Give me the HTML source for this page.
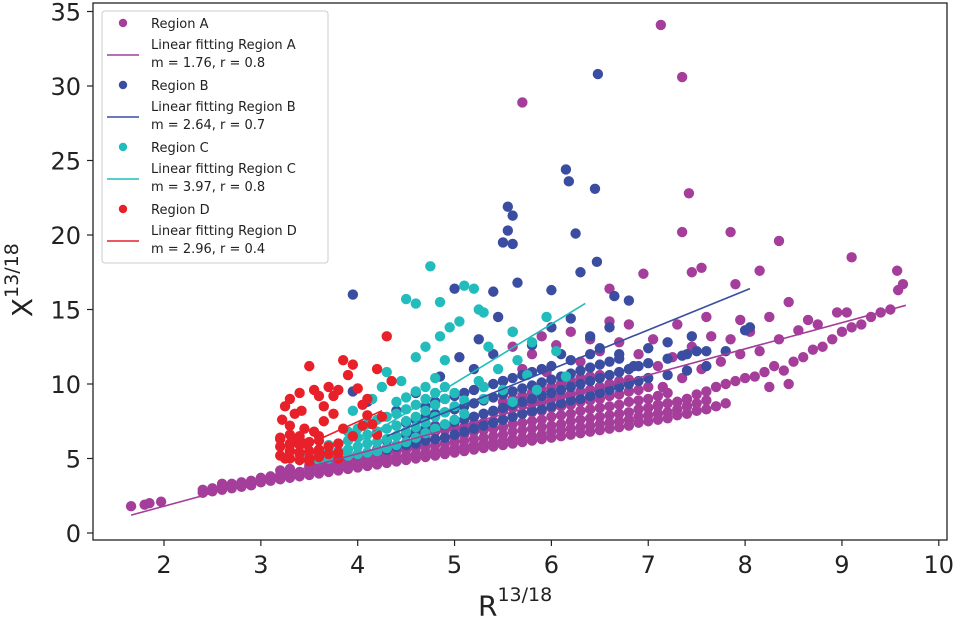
<!DOCTYPE html>
<html><head><meta charset="utf-8"><style>
body{margin:0;background:#fff;font-family:"DejaVu Sans","Liberation Sans",sans-serif}
svg{display:block}
</style></head><body>
<svg id="chart" width="958" height="628" viewBox="0 0 958 628" xmlns="http://www.w3.org/2000/svg"></svg>
<script>
const xTicks=[2,3,4,5,6,7,8,9,10];
const yTicks=[0,5,10,15,20,25,30,35];
const seriesNames=["Region A","Region B","Region C","Region D"];
const seriesColors=["#a43e9a","#3a4da0","#22bcbc","#e8202a"];
const fitSlopes=[1.76,2.64,3.97,2.96];
const fitR=[0.8,0.7,0.8,0.4];
const fitStart=[[1.66,1.2],[4.3,6.5],[3.98,6.0],[3.2,5.1]];
const fitEndX=[9.66,8.05,6.35,4.25];
const regionA=[[1.66,1.8],[1.8,1.9],[1.85,2.0],[1.97,2.1],[7.13,34.1],[7.35,30.6],[5.7,28.9],[7.42,22.8],[7.35,20.2],[7.85,20.2],[8.35,19.6],[9.1,18.5],[9.57,17.6],[9.63,16.7],[9.58,16.3],[8.15,17.6],[6.95,17.4],[7.45,17.5],[7.55,17.8],[7.9,16.7],[6.6,16.4],
[4.2,6.8],[4.5,7.5],[4.8,7.2],[5.5,10.2],[5.7,11.0],[5.95,10.8],[5.8,12.0],[5.6,12.5],[5.9,13.2],
[6.3,11.5],[6.5,12.2],[6.7,12.8],[6.9,12.0],[6.2,13.5],[6.6,14.2],[6.4,13.0],[6.8,14.0],[6.05,12.6],
[7.1,8.5],[7.2,8.7],[7.3,8.8],[7.4,9.0],[7.5,9.3],[7.6,9.5],[7.7,9.8],[7.8,10.0],[7.9,10.2],[8.0,10.4],[7.15,9.8],[7.35,10.4],[7.55,11.0],[7.75,11.5],[7.95,12.0],[7.25,11.8],[7.45,12.5],[7.65,13.2],[7.85,13.0],[7.05,13.0],[7.3,14.0],[7.6,14.5],[7.95,14.3],[7.1,11.2],
[8.1,10.5],[8.2,10.8],[8.3,11.2],[8.4,10.9],[8.5,11.5],[8.6,11.8],[8.7,12.3],[8.8,12.5],[8.9,13.0],[9.0,13.5],[8.15,12.2],[8.35,13.0],[8.55,13.6],[8.75,14.0],[8.95,14.8],[8.25,14.5],[8.45,15.5],[8.65,14.3],[8.05,13.5],[8.45,10.0],[8.25,9.8],
[9.1,13.8],[9.2,14.0],[9.3,14.5],[9.4,14.8],[9.5,15.0],[9.05,14.8]];
const colsA=[[2.4,2.7,2.9],[2.5,2.8,3.0],[2.6,2.9,3.1,3.3],[2.7,3.0,3.3],[2.8,3.1,3.4],[2.9,3.2,3.5],[3.0,3.4,3.7],[3.1,3.5,3.8],[3.2,3.6,3.9,4.2],[3.3,3.7,4.0,4.3],[3.4,3.8,4.1],[3.5,3.9,4.2,4.5],[3.6,4.0,4.3,4.6],[3.7,4.1,4.4,4.7],[3.8,4.2,4.5,4.8],[3.9,4.3,4.6,4.9],
[4.0,4.4,4.7,5.0,5.3],[4.1,4.5,4.8,5.1,5.4],[4.2,4.6,4.9,5.2,5.6],[4.3,4.7,5.0,5.3,5.7],[4.4,4.8,5.1,5.5,5.9],[4.5,4.9,5.2,5.6,6.0],[4.6,5.0,5.3,5.7,6.1,6.5],[4.7,5.1,5.4,5.8,6.2,6.6],[4.8,5.2,5.5,5.9,6.3,6.8],[4.9,5.3,5.6,6.0,6.4,6.9],[5.0,5.4,5.7,6.1,6.5,7.0],
[5.1,5.5,5.8,6.2,6.6,7.1,7.6],[5.2,5.6,5.9,6.3,6.8,7.3,7.8],[5.3,5.7,6.0,6.4,6.9,7.4,8.0],[5.4,5.8,6.1,6.5,7.0,7.5,8.1],[5.5,5.9,6.2,6.6,7.1,7.6,8.2,8.8],[5.6,6.0,6.3,6.8,7.3,7.8,8.4,9.0],[5.7,6.1,6.4,6.9,7.4,8.0,8.6,9.2],[5.8,6.2,6.5,7.0,7.5,8.1,8.7,9.4],[5.9,6.3,6.6,7.1,7.6,8.2,8.8,9.6],[6.0,6.4,6.8,7.2,7.8,8.4,9.0,9.8],
[6.1,6.5,6.9,7.3,7.9,8.5,9.2,10.0],[6.2,6.6,7.0,7.5,8.0,8.6,9.3,10.2],[6.3,6.7,7.1,7.6,8.2,8.8,9.5,10.4],[6.4,6.8,7.2,7.7,8.3,8.9,9.6,10.5],[6.5,6.9,7.3,7.8,8.4,9.0,9.8,10.6],[6.6,7.0,7.4,7.9,8.5,9.2,10.0],[6.7,7.1,7.5,8.0,8.6,9.3,10.2],[6.8,7.2,7.6,8.1,8.8,9.5,10.3],[6.9,7.4,7.8,8.3,8.9,9.6],[7.0,7.5,7.9,8.4,9.0,9.8],
[7.1,7.6,8.0,8.6,9.2],[7.2,7.7,8.1,8.7,9.4],[7.3,7.9,8.3,8.8],[7.4,8.0,8.5,9.0],[7.5,8.2,8.7],[7.6,8.3,8.9],[7.7,8.5],[7.8,8.7]];
const regionB=[[3.95,16.0],[5.55,21.9],[5.6,21.3],[5.55,20.3],[5.5,19.5],[5.6,19.4],[6.15,24.4],[6.18,23.6],[6.45,23.1],[6.48,30.8],[6.25,20.1],[6.47,18.2],[6.3,17.5],[6.65,15.9],[5.65,16.8],[5.4,16.2],[5.0,16.4],[6.0,16.3],[6.8,15.6],[7.45,13.2],[8.05,13.8],[8.0,13.6],[3.95,9.5],[4.1,8.8],
[5.2,11.0],[5.4,12.0],[5.6,13.5],[5.8,12.6],[6.0,13.8],[6.2,14.4],[6.4,13.2],[6.6,13.8],[7.0,12.4],[7.2,12.8],[7.5,12.2],[4.85,10.5],[5.05,11.8],[5.25,13.0],[5.45,14.5],[4.6,9.4],[4.4,8.2],[6.1,12.0],[6.5,12.4],[6.7,12.0],[7.8,12.2],[7.35,11.9],[6.85,11.2]];
const colsB=[[4.3,5.6,6.2],[4.4,5.8,6.5,7.2],[4.5,5.9,6.6,7.4],[4.6,6.0,6.8,7.6],[4.7,6.2,7.0,7.8,8.5],[4.8,6.3,7.1,8.0,8.8],[4.9,6.4,7.2,8.1,9.0],[5.0,6.6,7.4,8.3,9.2],[5.1,6.8,7.6,8.5,9.4],[5.2,7.0,7.8,8.7,9.6],[5.3,7.2,8.0,8.9,9.8],[5.4,7.4,8.2,9.1,10.0],[5.5,7.6,8.4,9.3,10.2],[5.6,7.8,8.6,9.5,10.4],[5.7,8.0,8.8,9.7,10.6],[5.8,8.2,9.0,9.9,10.8],[5.9,8.3,9.2,10.1,11.0],[6.0,8.5,9.4,10.3,11.2],
[6.1,8.7,9.6,10.5],[6.2,8.9,9.8,10.7,11.6],[6.3,9.0,10.0,10.9],[6.4,9.2,10.2,11.1,12.0],[6.5,9.4,10.4,11.3],[6.6,9.6,10.6,11.5],[6.7,9.8,10.8,11.7],[6.8,10.0,11.0],[6.9,10.2,11.2],[7.0,10.4,11.4],[7.2,10.6,11.7],[7.4,10.9,12.0],[7.6,11.2,12.2]];
const regionC=[[4.75,17.9],[4.6,15.4],[4.5,15.7],[4.85,15.5],[5.1,16.6],[5.2,16.4],[5.05,14.2],[4.95,13.8],[5.25,15.0],[5.3,14.8],[5.95,14.5],[5.6,13.5],[5.8,12.8],[6.05,12.2],[4.3,10.8],[4.6,11.8],[4.9,11.6],
[4.15,9.0],[4.25,9.8],[3.95,8.2],[4.45,10.2],[4.7,12.5],[4.85,13.2],[5.35,12.5],[5.45,11.0],[5.65,11.6],[5.85,9.6],[6.15,10.5],[5.6,8.8],[4.8,10.4],[5.25,10.2],[5.75,10.6],[3.5,5.2],[3.4,4.9]];
const colsC=[[3.6,4.9,5.3],[3.7,5.0,5.4,5.9],[3.8,5.1,5.5,6.0],[3.9,5.2,5.6,6.2,6.8],[4.0,5.3,5.8,6.4,7.0],[4.1,5.4,6.0,6.6,7.3],[4.2,5.5,6.1,6.8,7.6],[4.3,5.7,6.3,7.0,7.8],[4.4,5.9,6.5,7.2,8.0,8.8],[4.5,6.1,6.8,7.5,8.3,9.1],[4.6,6.4,7.1,7.8,8.6,9.5],[4.7,6.7,7.4,8.2,9.0,9.8],[4.8,7.0,7.8,8.6,9.4],[4.9,7.3,8.1,9.0,9.8],[5.0,7.6,8.5,9.4],[5.1,8.0,8.9],[5.3,9.0,9.8],[5.5,9.6]];
const regionD=[[3.25,5.0],[3.3,5.5],[3.35,6.2],[3.3,7.2],[3.25,8.5],[3.3,9.0],[3.35,8.0],[3.4,9.4],[3.45,7.0],[3.5,11.2],[3.55,9.6],[3.6,9.2],[3.6,6.5],[3.65,8.5],[3.7,9.8],[3.75,9.2],[3.8,9.6],[3.85,11.6],[3.9,10.6],[3.95,11.3],[4.0,9.7],[4.05,8.6],[4.1,7.9],[4.15,7.3],[4.2,6.6],[4.25,7.8],[4.3,13.2],[4.35,10.2],[4.2,11.0],[3.3,5.9],[3.4,5.3],[3.5,5.0],[3.6,5.4],[3.7,5.8],[3.8,5.0],[3.45,6.0],[3.55,6.8],[3.65,7.5],[3.75,8.0],[3.85,7.0],[3.95,6.5],[4.05,7.2],[4.1,9.0],[3.2,6.3],[3.22,7.6],[3.5,4.8],[3.42,8.2]];
const colsD=[[3.2,5.2,5.8,6.4],[3.3,5.0,5.5,6.0,6.6],[3.4,4.9,5.4,5.9,6.5],[3.5,5.0,5.5,6.1],[3.6,5.1,5.6,6.2],[3.7,5.3,5.8],[3.8,5.4,6.0]];

function expand(pts,cols){const out=pts.slice();cols.forEach(c=>{for(let i=1;i<c.length;i++)out.push([c[0],c[i]]);});return out;}
const allSeries=[expand(regionA,colsA),expand(regionB,colsB),expand(regionC,colsC),expand(regionD,colsD)];

const NS="http://www.w3.org/2000/svg";
const svg=document.getElementById('chart');
const L=93,R=947,T=3,B=540;
const xS=v=>164+(v-2)*96.85;
const yS=v=>533-v*14.9;
function mk(tag,attrs,parent){const e=document.createElementNS(NS,tag);for(const k in attrs)e.setAttribute(k,attrs[k]);(parent||svg).appendChild(e);return e;}

const plot=mk('g',{});


mk('rect',{x:L,y:T,width:R-L,height:B-T,fill:'#fff'},plot);

allSeries.forEach((pts,si)=>{
  const g=mk('g',{fill:seriesColors[si]});
  
  
  pts.forEach(p=>{
    const c=mk('circle',{cx:xS(p[0]),cy:yS(p[1]),r:5.2},g);
    
    
  });
});
fitSlopes.forEach((m,i)=>{
  const x0=fitStart[i][0],y0=fitStart[i][1],x1=fitEndX[i];
  const ln=mk('line',{x1:xS(x0),y1:yS(y0),x2:xS(x1),y2:yS(y0+m*(x1-x0)),stroke:seriesColors[i],'stroke-width':1.6});
  
  
});

const frame=mk('rect',{x:L,y:T,width:R-L,height:B-T,fill:'none',stroke:'#222','stroke-width':1.3});



xTicks.forEach(t=>{
  const x=xS(t);
  mk('line',{x1:x,y1:B,x2:x,y2:B+6,stroke:'#222','stroke-width':1.2});
  const tx=mk('text',{x:x,y:B+33,'text-anchor':'middle','font-size':24,fill:'#222'});
  tx.textContent=t;
  
  
});
yTicks.forEach(t=>{
  const y=yS(t);
  mk('line',{x1:L-6,y1:y,x2:L,y2:y,stroke:'#222','stroke-width':1.2});
  const tx=mk('text',{x:L-12,y:y+9,'text-anchor':'end','font-size':24,fill:'#222'});
  tx.textContent=t;
  
  
});

const lg=mk('g',{});


mk('rect',{x:102,y:11,width:226,height:252,rx:3,fill:'#fff','fill-opacity':0.85,stroke:'#ccc'},lg);
seriesNames.forEach((n,i)=>{
  const y0=11+i*62;
  mk('circle',{cx:123,cy:y0+12,r:4.2,fill:seriesColors[i]},lg);
  const t1=mk('text',{x:151,y:y0+17,'font-size':13,fill:'#222'},lg);t1.textContent=n;
  
  
  mk('line',{x1:107,y1:y0+44,x2:139,y2:y0+44,stroke:seriesColors[i],'stroke-width':1.6},lg);
  const t2=mk('text',{x:151,y:y0+38,'font-size':13,fill:'#222'},lg);t2.textContent='Linear fitting '+n;
  
  
  const t3=mk('text',{x:151,y:y0+56,'font-size':13,fill:'#222'},lg);t3.textContent='m = '+fitSlopes[i].toFixed(2)+', r = '+fitR[i];
  
  
});
</script>
<div style="position:absolute;left:478px;top:588px;font-size:28px;color:#222;font-family:'DejaVu Sans','Liberation Sans',sans-serif">R<sup style="font-size:19px;position:relative;top:-4px">13/18</sup></div>
<div style="position:absolute;left:-38px;top:240px;width:120px;transform:rotate(-90deg);font-size:28px;color:#222;white-space:nowrap;font-family:'DejaVu Sans','Liberation Sans',sans-serif">X<sup style="font-size:19px;position:relative;top:-4px">13/18</sup></div>
</body></html>
